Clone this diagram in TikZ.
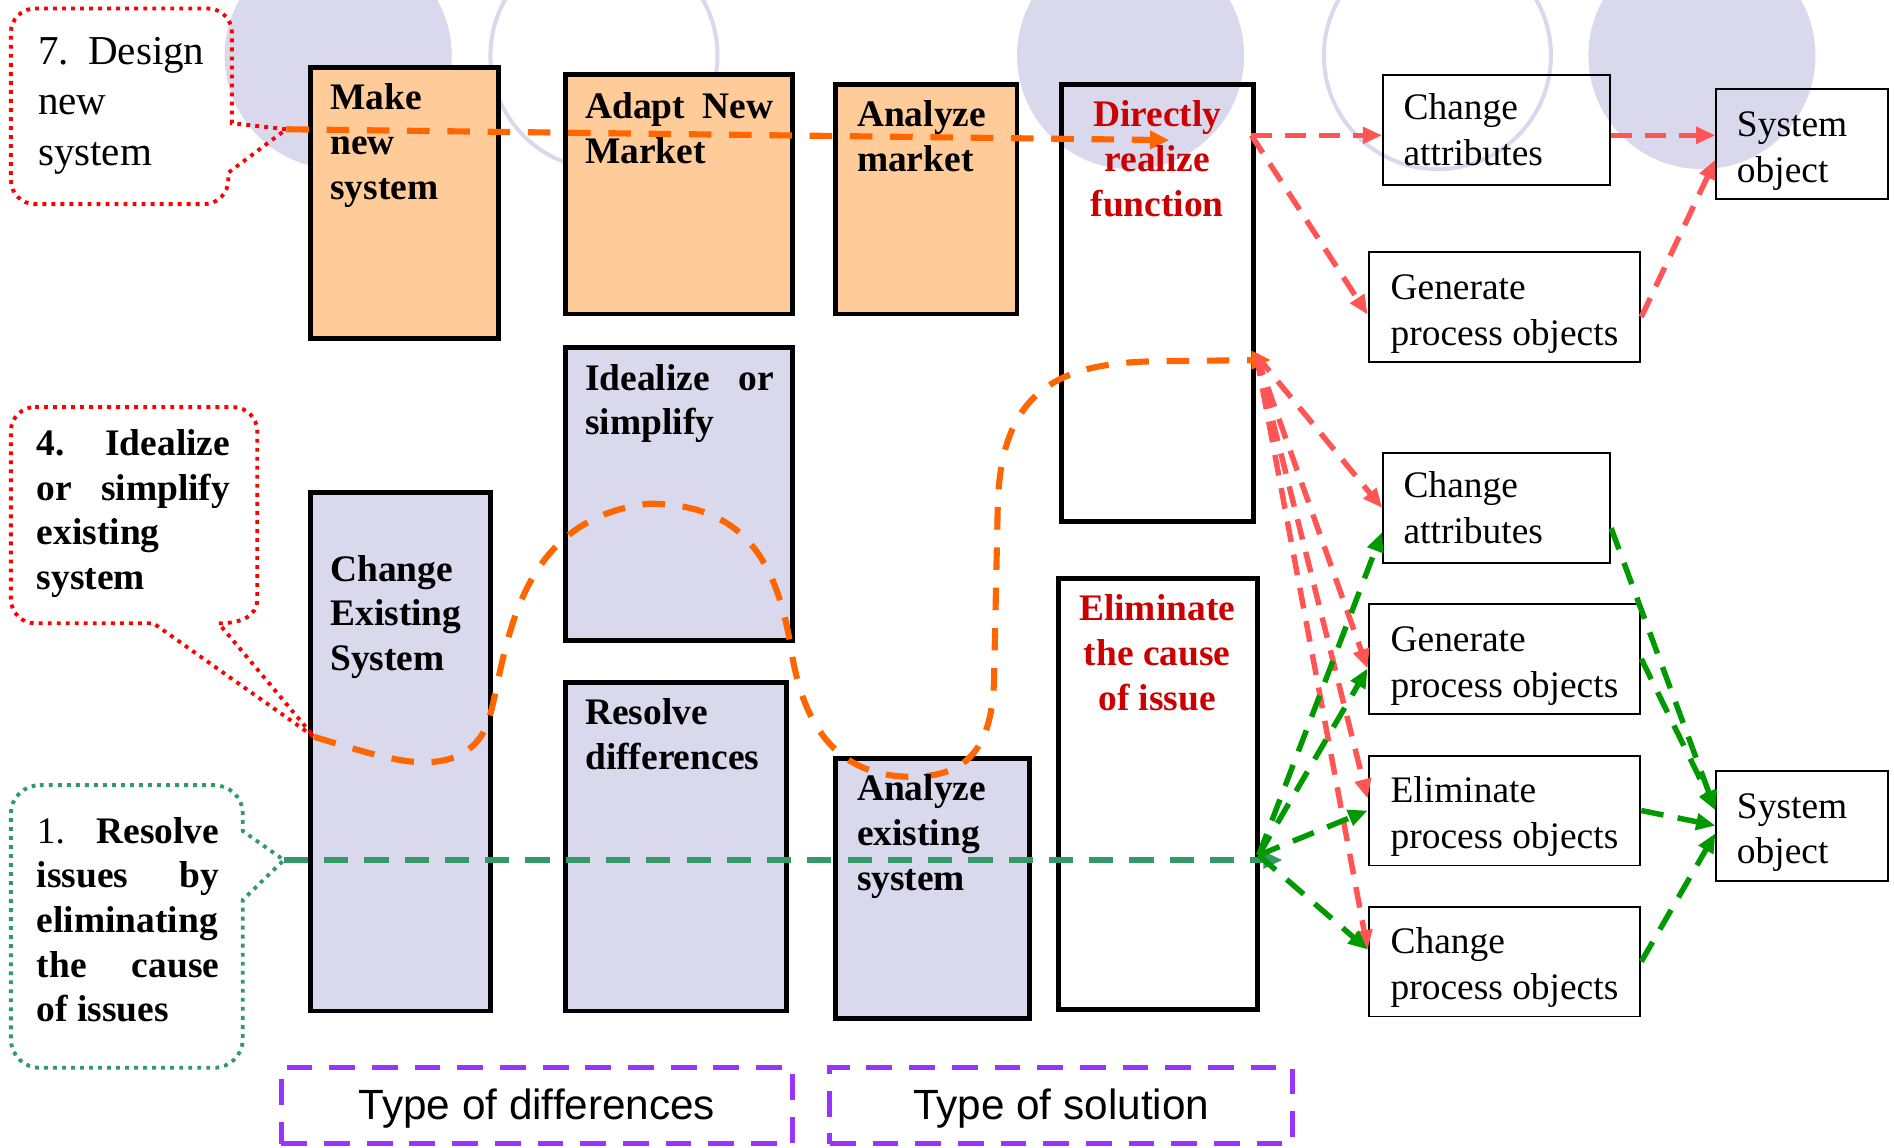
\documentclass[tikz,border=0pt]{standalone}
\usepackage{fontspec}
\setmainfont{Liberation Serif}
\newfontfamily\labelsans{Liberation Sans}
\usetikzlibrary{arrows.meta}

\definecolor{peach}{RGB}{255,204,153}
\definecolor{lavender}{RGB}{217,216,236}
\definecolor{orangeln}{RGB}{255,102,0}
\definecolor{redln}{RGB}{255,85,85}
\definecolor{greenln}{RGB}{0,153,0}
\definecolor{tealln}{RGB}{51,153,102}
\definecolor{redtxt}{RGB}{204,0,0}
\definecolor{purpleln}{RGB}{153,51,255}

\newcommand{\lowstrut}{\rule{0pt}{24pt}}

\tikzset{every picture/.style={line width=0.75pt},
  diffbox/.style={draw=black, line width=3pt, inner sep=0pt},
  objbox/.style={draw=black, line width=1.2pt, inner xsep=12.75pt, inner ysep=0pt, minimum height=68.25pt, align=left, font=\fontsize{23.25}{28.5}\selectfont},
  boldtxt/.style={anchor=north west, inner sep=0pt, align=left, font=\fontsize{23.25}{27.75}\selectfont\bfseries},
  soltxt/.style={anchor=north, inner sep=0pt, align=center, text=redtxt, font=\fontsize{23.25}{27.75}\selectfont\bfseries},
  calltxt/.style={anchor=north west, inner sep=0pt, align=left, font=\fontsize{25.5}{31.5}\selectfont},
  typebox/.style={draw=purpleln, line width=3pt, dash pattern=on 16pt off 10.5pt, minimum height=47.25pt, font=\labelsans\fontsize{26.25}{30}\selectfont},
  reddots/.style={draw=red, line width=2.4pt, dash pattern=on 2.4pt off 3.2pt},
  tealdots/.style={draw=tealln, line width=2.4pt, dash pattern=on 2.4pt off 3.2pt},
  orangeflow/.style={draw=orangeln, line width=3.8pt, dash pattern=on 14pt off 11pt, -{Triangle[length=12pt,width=11pt]}},
  redflow/.style={draw=redln, line width=3.4pt, dash pattern=on 13pt off 8pt, -{Triangle[length=12pt,width=10pt]}},
  greenflow/.style={draw=greenln, line width=3.4pt, dash pattern=on 14pt off 9pt, -{Triangle[length=12pt,width=10pt]}},
  tealflow/.style={draw=tealln, line width=3.6pt, dash pattern=on 15pt off 10pt, -{Triangle[length=12pt,width=10pt]}}
}

\begin{document}
\begin{tikzpicture}[x=0.75pt,y=0.75pt,yscale=-1,xscale=1]
\useasboundingbox (0,0) rectangle (1568,950);
\clip (0,0) rectangle (1568,950);

%Shape: Circle
\fill [lavender] (280,46) circle (94);
%Shape: Circle
\draw [lavender, line width=2.5pt] (500,46) circle (94);
%Shape: Circle
\fill [lavender] (936,46) circle (94);
%Shape: Circle
\draw [lavender, line width=2.5pt] (1190,46) circle (94);
%Shape: Circle
\fill [lavender] (1409,46) circle (94);

%Shape: Rectangle (differences)
\node [diffbox, fill=peach, minimum width=117pt, minimum height=168pt] (mk) at (335,168) {};
\node [diffbox, fill=peach, minimum width=141pt, minimum height=148.5pt] (anm) at (562,161) {};
\node [diffbox, fill=peach, minimum width=112.5pt, minimum height=142.5pt] (amk) at (767,165) {};
\node [diffbox, fill=lavender, minimum width=141pt, minimum height=181.5pt] (ios) at (562,409) {};
\node [diffbox, fill=lavender, minimum width=111.75pt, minimum height=321.75pt] (ces) at (331.5,622.5) {};
\node [diffbox, fill=lavender, minimum width=137.25pt, minimum height=204pt] (rdf) at (559.5,701) {};
\node [diffbox, fill=lavender, minimum width=120pt, minimum height=161.25pt] (aes) at (772,735.5) {};
%Shape: Rectangle (solutions)
\node [diffbox, minimum width=119.25pt, minimum height=271.5pt] (drf) at (958.5,251) {};
\node [diffbox, minimum width=123.75pt, minimum height=267.75pt] (eci) at (958.5,657.5) {};

%Shape: Rectangle (objects)
\node [objbox, text width=115.5pt] (ca1) at (1239,107.5) {Change\\attributes};
\node [objbox, text width=81pt] (so1) at (1492,119.5) {\lowstrut System\\object};
\node [objbox, minimum width=168.75pt] (gp1) at (1245.5,254.5) {\lowstrut Generate\\process objects};
\node [objbox, text width=115.5pt] (ca2) at (1239,420.5) {Change\\attributes};
\node [objbox, minimum width=168.75pt] (gp2) at (1245.5,545.5) {\lowstrut Generate\\process objects};
\node [objbox, minimum width=168.75pt] (ep) at (1245.5,671) {\lowstrut Eliminate\\process objects};
\node [objbox, minimum width=168.75pt] (cp) at (1245.5,796) {\lowstrut Change\\process objects};
\node [objbox, text width=81pt] (so2) at (1492,683.5) {\lowstrut System\\object};

%Shape: Callout
\draw [reddots] (29,7) -- (172,7) .. controls (183,7) and (192,16) .. (192,27) -- (192,102) -- (237,107) -- (189,143) -- (189,149) .. controls (189,160) and (180,169) .. (169,169) -- (29,169) .. controls (18,169) and (9,160) .. (9,149) -- (9,27) .. controls (9,16) and (18,7) .. (29,7) -- cycle ;
\coordinate (tip7) at (237,107);
%Shape: Callout
\draw [reddots] (29,337) -- (193,337) .. controls (204,337) and (213,346) .. (213,357) -- (213,496) .. controls (213,510) and (200,516) .. (181,516) -- (260,610) -- (127,516) -- (29,516) .. controls (18,516) and (9,507) .. (9,496) -- (9,357) .. controls (9,346) and (18,337) .. (29,337) -- cycle ;
\coordinate (tip4) at (260,610);
%Shape: Callout
\draw [tealdots] (33,650) -- (177,650) .. controls (190,650) and (201,660) .. (201,674) -- (201,688) -- (235,712) -- (201,745) -- (201,860) .. controls (201,874) and (190,884) .. (177,884) -- (33,884) .. controls (20,884) and (9,874) .. (9,860) -- (9,674) .. controls (9,660) and (20,650) .. (33,650) -- cycle ;
\coordinate (tip1) at (235,712);

%Shape: Type boxes
\node [typebox, minimum width=317.25pt] (tdiff) at (444.5,915.5) {\rule{0pt}{22pt}Type of differences};
\node [typebox, minimum width=287.25pt] (tsol) at (878.5,915.5) {\rule{0pt}{22pt}Type of solution};

\coordinate (endtop) at (968,116);
\coordinate (endcurve) at (1052,298);
\coordinate (endmid) at (1062,712);
\coordinate (rtop) at (1036,112);
\coordinate (rfan) at (1040,294);
\coordinate (gfan) at (1042,708);

%Straight Lines
\draw [orangeflow] (tip7) -- (endtop);
%Curve Lines
\draw [orangeflow] (tip4) .. controls (300,622) and (330,632) .. (355,631) .. controls (380,630) and (398,618) .. (405,595) .. controls (420,540) and (425,430) .. (537,417) .. controls (620,417) and (645,470) .. (656,544) .. controls (668,610) and (700,645) .. (760,643) .. controls (800,641) and (822,620) .. (823,560) -- (826,420) .. controls (828,320) and (880,300) .. (960,299) -- (endcurve);
%Straight Lines
\draw [tealflow] (tip1) -- (endmid);

%Straight Lines
\draw [redflow] (rtop) -- (ca1.west |- rtop);
\draw [redflow] (ca1.east |- rtop) -- (so1.west |- rtop);
\draw [redflow] (rtop) -- (gp1.183);
\draw [redflow] (gp1.356) -- (so1.190);
\draw [redflow] (rfan) -- (ca2.west);
\draw [redflow] (rfan) -- (gp2.184);
\draw [redflow] (rfan) -- (ep.175);
\draw [redflow] (rfan) -- (cp.175);

%Straight Lines
\draw [greenflow] (gfan) -- (ca2.192);
\draw [greenflow] (gfan) -- (gp2.184);
\draw [greenflow] (gfan) -- (ep.west);
\draw [greenflow] (gfan) -- (cp.175);
\draw [greenflow] (ca2.350) -- (so2.170);
\draw [greenflow] (gp2.east) -- (so2.170);
\draw [greenflow] (ep.east) -- (so2.west);
\draw [greenflow] (cp.east) -- (so2.185);

% Text Node
\node [boldtxt] (mktxt) at (273,69) {Make\\new\\system};
% Text Node
\node [boldtxt] (anmtxt) at (484,76) {\hbox to 117pt{Adapt\hfill New}\\Market};
% Text Node
\node [boldtxt] (amktxt) at (709,83) {Analyze\\market};
% Text Node
\node [soltxt] (drftxt) at (958,83) {Directly\\realize\\function};
% Text Node
\node [boldtxt] (iostxt) at (484,301) {\hbox to 117pt{Idealize\hfill or}\\simplify};
% Text Node
\node [boldtxt] (cestxt) at (273,459) {Change\\Existing\\System};
% Text Node
\node [boldtxt] (rdftxt) at (484,578) {Resolve\\differences};
% Text Node
\node [boldtxt] (aestxt) at (709,641) {Analyze\\existing\\system};
% Text Node
\node [soltxt] (ecitxt) at (958,492) {Eliminate\\the cause\\of issue};
% Text Node
\node [calltxt] (c7txt) at (31,30) {7.\hspace{12pt}Design\\new\\system};
% Text Node
\node [boldtxt] (c4txt) at (30,355) {\hbox to 120pt{4.\hfill Idealize}\\\hbox to 120pt{or\hfill simplify}\\existing\\system};
% Text Node
\node [boldtxt] (c1txt) at (30,676) {\hbox to 113.25pt{{\mdseries 1.}\hfill Resolve}\\\hbox to 113.25pt{issues\hfill by}\\eliminating\\\hbox to 113.25pt{the\hfill cause}\\of issues};

\end{tikzpicture}
\end{document}
